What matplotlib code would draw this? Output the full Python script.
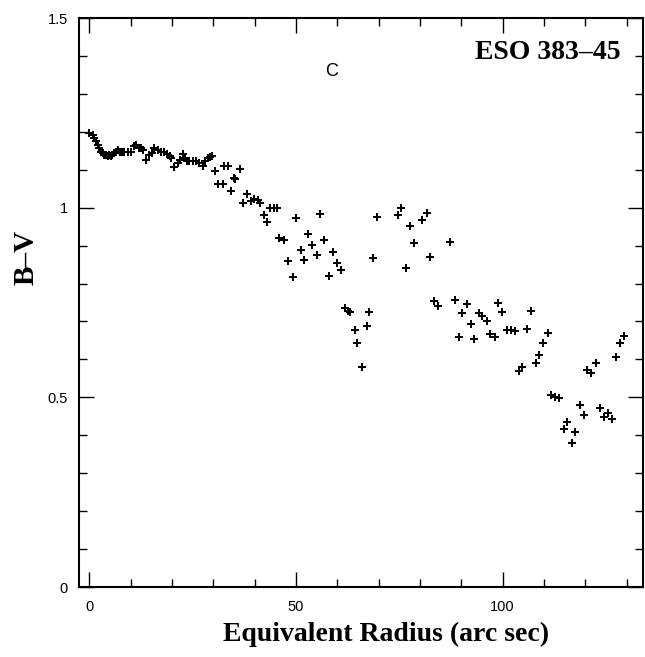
import matplotlib
matplotlib.use("Agg")
import matplotlib.pyplot as plt
from matplotlib.ticker import MultipleLocator

radius = [0.0, 0.8, 1.2, 1.6, 2.0, 2.4, 2.8, 3.2, 3.6, 4.0, 4.4, 4.8, 5.2, 5.6, 6.0, 6.5, 6.9, 7.3, 7.7, 8.1,
          8.5, 9.3, 10.1, 10.9, 11.3, 11.9, 12.5, 12.9, 13.7, 14.5, 15.1, 15.7, 16.5, 17.3, 18.1, 18.8, 19.4, 19.8,
          20.6, 21.4, 22.0, 22.6, 23.1, 23.6, 24.2, 25.0, 25.8, 26.6, 27.4, 28.0, 28.6, 29.3, 29.8, 30.4, 31.2,
          32.3, 32.7, 33.5, 34.3, 34.9, 35.3, 36.5, 37.1, 38.1, 39.0, 39.8, 40.7, 41.4, 42.2, 43.1, 43.8, 44.8,
          45.4, 46.0, 47.0, 48.1, 49.2, 50.0, 51.2, 52.0, 52.8, 54.0, 55.1, 55.9, 56.9, 58.0, 59.0, 59.9, 60.9,
          61.8, 62.5, 63.0, 64.4, 64.7, 65.9, 67.3, 67.7, 68.7, 69.6, 74.6, 75.4, 76.6, 77.5, 78.6, 80.4, 81.6,
          82.4, 83.4, 84.4, 87.3, 88.4, 89.4, 90.3, 91.3, 92.3, 93.2, 94.3, 95.1, 96.3, 97.0, 98.1, 99.0, 99.9,
          101.0, 102.1, 103.1, 103.9, 104.8, 106.0, 107.0, 108.0, 108.8, 109.8, 110.9, 111.6, 112.6, 113.6,
          114.8, 115.6, 116.7, 117.6, 118.8, 119.6, 120.4, 121.4, 122.7, 123.5, 124.6, 125.4, 126.5, 127.5,
          128.5, 129.5]
bv = [1.197, 1.192, 1.183, 1.175, 1.166, 1.157, 1.148, 1.144, 1.140, 1.138, 1.135, 1.140, 1.135, 1.138, 1.144,
      1.148, 1.153, 1.148, 1.146, 1.147, 1.148, 1.147, 1.148, 1.162, 1.166, 1.157, 1.157, 1.153, 1.127, 1.140,
      1.144, 1.157, 1.153, 1.148, 1.147, 1.141, 1.135, 1.131, 1.107, 1.118, 1.127, 1.141, 1.131, 1.124, 1.124,
      1.124, 1.122, 1.118, 1.109, 1.122, 1.131, 1.134, 1.135, 1.098, 1.063, 1.063, 1.109, 1.109, 1.045, 1.079,
      1.076, 1.103, 1.013, 1.037, 1.017, 1.022, 1.019, 1.013, 0.981, 0.961, 1.000, 1.000, 1.000, 0.921, 0.914,
      0.860, 0.818, 0.974, 0.888, 0.862, 0.930, 0.902, 0.875, 0.983, 0.914, 0.820, 0.882, 0.853, 0.836, 0.735,
      0.728, 0.724, 0.678, 0.642, 0.579, 0.688, 0.726, 0.867, 0.976, 0.981, 0.998, 0.840, 0.952, 0.906, 0.968,
      0.987, 0.869, 0.755, 0.742, 0.910, 0.757, 0.658, 0.723, 0.746, 0.693, 0.653, 0.722, 0.714, 0.700, 0.667,
      0.658, 0.748, 0.726, 0.678, 0.678, 0.676, 0.570, 0.579, 0.679, 0.728, 0.590, 0.612, 0.644, 0.669, 0.506,
      0.500, 0.497, 0.416, 0.436, 0.379, 0.409, 0.480, 0.453, 0.572, 0.565, 0.590, 0.471, 0.447, 0.460, 0.442,
      0.607, 0.644, 0.662]

serif = ['Liberation Serif', 'DejaVu Serif']
sans = ['Liberation Sans', 'DejaVu Sans']

fig = plt.figure(figsize=(6.45, 6.57), dpi=100)
ax = fig.add_axes([0.1225, 0.1065, 0.8745, 0.8661])
ax.scatter(radius, bv, marker='P', s=32, c='black', linewidths=0)

ax.set_xlim(-2.5, 134)
ax.set_ylim(0, 1.5)
ax.xaxis.set_major_locator(MultipleLocator(50))
ax.xaxis.set_minor_locator(MultipleLocator(10))
ax.yaxis.set_major_locator(MultipleLocator(0.5))
ax.yaxis.set_minor_locator(MultipleLocator(0.1))
ax.set_yticks([0, 0.5, 1, 1.5])
ax.set_yticklabels(['0', '0.5', '1', '1.5'])
ax.tick_params(which='both', direction='in', top=True, right=True, width=1, colors='black')
ax.tick_params(which='major', length=11, labelsize=10.5)
ax.tick_params(which='minor', length=6)
ax.tick_params(axis='x', pad=9)
ax.tick_params(axis='y', pad=8)
for lab in ax.get_xticklabels() + ax.get_yticklabels():
    lab.set_family(sans)
for sp in ax.spines.values():
    sp.set_linewidth(1.5)

ax.set_xlabel('Equivalent Radius (arc sec)', family=serif, fontweight='bold', fontsize=20)
ax.set_ylabel('B–V', family=serif, fontweight='bold', fontsize=21)
ax.xaxis.set_label_coords(0.545, -0.062)
ax.yaxis.set_label_coords(-0.07, 0.58)

ax.text(58.5, 1.36, 'C', family=sans, fontsize=13, ha='center', va='center')
ax.text(128.6, 1.41, 'ESO 383–45', family=serif, fontweight='bold', fontsize=20, ha='right', va='center')

fig.savefig('out.png', dpi=100)
